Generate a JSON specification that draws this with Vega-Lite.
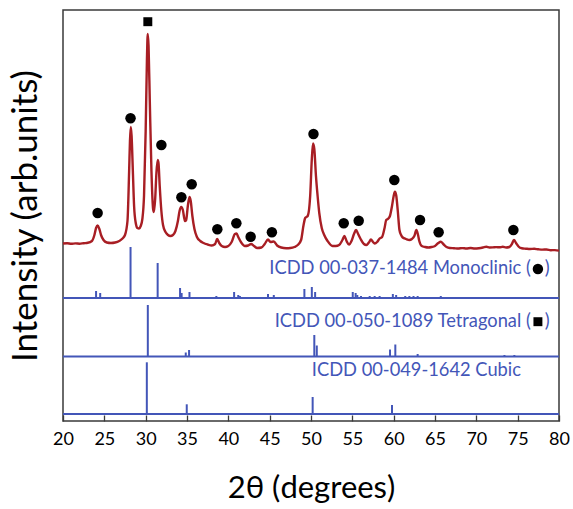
{
  "$schema": "https://vega.github.io/schema/vega-lite/v6.json",
  "width": 496,
  "height": 411,
  "autosize": {"type": "none"},
  "padding": {"left": 63, "top": 10, "right": 14, "bottom": 88},
  "background": "white",
  "config": {
    "view": {"stroke": "#3a3a3a", "strokeWidth": 1.5},
    "font": "Lato"
  },
  "datasets": {
    "pattern": [
      {"t":20.0,"v":177.5},{"t":20.5,"v":177.8},{"t":21.0,"v":177.2},{"t":21.5,"v":177.6},{"t":22.0,"v":177.3},{"t":22.5,"v":177.8},{"t":23.0,"v":178.2},{"t":23.5,"v":180},{"t":23.8,"v":186},{"t":24.0,"v":193},{"t":24.2,"v":195.5},{"t":24.4,"v":192},{"t":24.6,"v":186},{"t":24.9,"v":181},{"t":25.3,"v":178.5},{"t":25.8,"v":178},{"t":26.3,"v":178.5},{"t":26.8,"v":180},{"t":27.2,"v":182.5},{"t":27.5,"v":186},{"t":27.8,"v":200},{"t":28.0,"v":250},{"t":28.1,"v":280},{"t":28.2,"v":294},{"t":28.3,"v":285},{"t":28.45,"v":250},{"t":28.6,"v":215},{"t":28.8,"v":198},{"t":29.0,"v":193},{"t":29.2,"v":192.5},{"t":29.4,"v":195},{"t":29.6,"v":202},{"t":29.8,"v":225},{"t":30.0,"v":290},{"t":30.15,"v":360},{"t":30.25,"v":387},{"t":30.35,"v":375},{"t":30.5,"v":320},{"t":30.7,"v":250},{"t":30.9,"v":212},{"t":31.0,"v":209},{"t":31.15,"v":222},{"t":31.3,"v":248},{"t":31.45,"v":261},{"t":31.55,"v":258},{"t":31.7,"v":235},{"t":31.9,"v":210},{"t":32.1,"v":196},{"t":32.4,"v":189},{"t":32.7,"v":186},{"t":33.0,"v":185},{"t":33.3,"v":186},{"t":33.6,"v":190},{"t":33.9,"v":200},{"t":34.1,"v":210},{"t":34.3,"v":214},{"t":34.5,"v":211},{"t":34.75,"v":200},{"t":34.9,"v":201},{"t":35.1,"v":215},{"t":35.3,"v":224},{"t":35.45,"v":220},{"t":35.65,"v":205},{"t":35.9,"v":192},{"t":36.2,"v":184},{"t":36.6,"v":180},{"t":37.0,"v":178},{"t":37.5,"v":176.5},{"t":38.0,"v":175.5},{"t":38.4,"v":177},{"t":38.65,"v":182},{"t":38.9,"v":178},{"t":39.2,"v":175},{"t":39.6,"v":174},{"t":40.0,"v":175},{"t":40.4,"v":179},{"t":40.8,"v":187},{"t":41.0,"v":187.5},{"t":41.2,"v":184},{"t":41.6,"v":178},{"t":42.0,"v":175},{"t":42.4,"v":175.5},{"t":42.75,"v":177},{"t":43.1,"v":175},{"t":43.5,"v":173},{"t":44.0,"v":173.5},{"t":44.4,"v":177},{"t":44.8,"v":181.5},{"t":45.1,"v":179},{"t":45.5,"v":179.5},{"t":45.9,"v":175.5},{"t":46.4,"v":173.5},{"t":47.0,"v":172.8},{"t":47.5,"v":173},{"t":48.0,"v":174},{"t":48.4,"v":176},{"t":48.8,"v":181},{"t":49.1,"v":196},{"t":49.3,"v":203},{"t":49.6,"v":205},{"t":49.9,"v":225},{"t":50.1,"v":262},{"t":50.25,"v":277.5},{"t":50.4,"v":272},{"t":50.6,"v":245},{"t":50.8,"v":225},{"t":51.0,"v":208},{"t":51.3,"v":193},{"t":51.6,"v":186},{"t":52.0,"v":180},{"t":52.6,"v":175},{"t":53.0,"v":175},{"t":53.4,"v":176},{"t":53.8,"v":181},{"t":54.05,"v":185},{"t":54.3,"v":180},{"t":54.6,"v":176.5},{"t":54.9,"v":180},{"t":55.2,"v":187},{"t":55.45,"v":191},{"t":55.7,"v":187},{"t":56.0,"v":182},{"t":56.4,"v":177},{"t":56.7,"v":176},{"t":57.0,"v":178.5},{"t":57.25,"v":181.5},{"t":57.5,"v":179},{"t":57.7,"v":177.5},{"t":58.0,"v":179},{"t":58.3,"v":182.5},{"t":58.6,"v":184},{"t":58.9,"v":193},{"t":59.1,"v":201},{"t":59.3,"v":202},{"t":59.55,"v":205},{"t":59.8,"v":215},{"t":60.0,"v":225},{"t":60.15,"v":229.3},{"t":60.3,"v":226},{"t":60.5,"v":210},{"t":60.7,"v":191},{"t":60.9,"v":186},{"t":61.1,"v":183.5},{"t":61.5,"v":182},{"t":61.9,"v":181},{"t":62.2,"v":182},{"t":62.5,"v":185},{"t":62.75,"v":191},{"t":62.95,"v":186},{"t":63.1,"v":180},{"t":63.4,"v":175},{"t":63.8,"v":174},{"t":64.2,"v":173.5},{"t":64.6,"v":174},{"t":65.0,"v":175},{"t":65.4,"v":178},{"t":65.7,"v":179.3},{"t":66.0,"v":177},{"t":66.4,"v":174},{"t":66.8,"v":173},{"t":67.3,"v":172.8},{"t":67.8,"v":172.5},{"t":68.3,"v":172.9},{"t":68.8,"v":172.5},{"t":69.3,"v":173},{"t":69.8,"v":172.5},{"t":70.3,"v":172.8},{"t":70.8,"v":173.5},{"t":71.2,"v":174.3},{"t":71.6,"v":173.5},{"t":72.0,"v":173.6},{"t":72.4,"v":173.9},{"t":72.8,"v":173.7},{"t":73.2,"v":174.2},{"t":73.6,"v":173.5},{"t":74.0,"v":174},{"t":74.3,"v":177},{"t":74.55,"v":181},{"t":74.8,"v":178},{"t":75.1,"v":174.5},{"t":75.5,"v":172.7},{"t":76.0,"v":172.3},{"t":76.5,"v":172},{"t":77.0,"v":172.2},{"t":77.5,"v":171.7},{"t":78.0,"v":171.4},{"t":78.5,"v":171.5},{"t":79.0,"v":170.8},{"t":79.5,"v":170.9},{"t":80.0,"v":170.3}
    ],
    "circles": [
      {"t":24.19,"v":208},{"t":28.17,"v":302.7},{"t":31.9,"v":276},{"t":34.32,"v":223.7},{"t":35.57,"v":236.7},{"t":38.67,"v":191.7},{"t":40.97,"v":197.7},{"t":42.7,"v":184.3},{"t":45.27,"v":188.7},{"t":50.3,"v":287},{"t":53.96,"v":197.7},{"t":55.77,"v":200.3},{"t":60.08,"v":241},{"t":63.19,"v":201},{"t":65.44,"v":188.7},{"t":74.48,"v":191},{"t":77.45,"v":152}
    ],
    "squares": [
      {"t":30.26,"v":399.3},{"t":77.45,"v":99.3}
    ],
    "sticks": [
      {"t":24.0,"v":123,"v2":130},{"t":24.5,"v":123,"v2":128},{"t":28.17,"v":123,"v2":174},{"t":31.45,"v":123,"v2":158},{"t":34.16,"v":123,"v2":133},{"t":34.35,"v":123,"v2":128},{"t":35.3,"v":123,"v2":129},{"t":38.55,"v":123,"v2":125},{"t":40.7,"v":123,"v2":129},{"t":41.2,"v":123,"v2":126},{"t":41.4,"v":123,"v2":125},{"t":44.8,"v":123,"v2":127},{"t":45.5,"v":123,"v2":126},{"t":49.2,"v":123,"v2":132},{"t":50.1,"v":123,"v2":134},{"t":50.5,"v":123,"v2":129},{"t":55.05,"v":123,"v2":129},{"t":55.4,"v":123,"v2":128},{"t":55.6,"v":123,"v2":126},{"t":56.05,"v":123,"v2":125},{"t":57.1,"v":123,"v2":125},{"t":57.7,"v":123,"v2":125},{"t":58.3,"v":123,"v2":125},{"t":59.9,"v":123,"v2":127},{"t":60.3,"v":123,"v2":126},{"t":61.4,"v":123,"v2":125},{"t":61.9,"v":123,"v2":125},{"t":62.4,"v":123,"v2":125},{"t":62.9,"v":123,"v2":125},{"t":65.7,"v":123,"v2":125},{"t":71.3,"v":123,"v2":124},{"t":74.9,"v":123,"v2":124},
      {"t":30.26,"v":64.5,"v2":116},{"t":34.85,"v":64.5,"v2":68.5},{"t":35.25,"v":64.5,"v2":71},{"t":50.4,"v":64.5,"v2":86},{"t":50.7,"v":64.5,"v2":75.5},{"t":59.56,"v":64.5,"v2":71.5},{"t":60.2,"v":64.5,"v2":76.5},{"t":62.9,"v":64.5,"v2":67},{"t":73.4,"v":64.5,"v2":66},{"t":74.6,"v":64.5,"v2":66},
      {"t":30.14,"v":7,"v2":58.7},{"t":34.97,"v":7,"v2":16.7},{"t":50.2,"v":7,"v2":24},{"t":59.8,"v":7,"v2":16},{"t":62.7,"v":7,"v2":8}
    ],
    "baselines": [{"v":123},{"v":64.5},{"v":7}],
    "labels": [
      {"t":78.88,"v":152,"label":"ICDD 00-037-1484 Monoclinic (\u00a0\u00a0\u00a0)"},
      {"t":78.88,"v":99.3,"label":"ICDD 00-050-1089 Tetragonal (\u00a0\u00a0\u00a0)"},
      {"t":75.4,"v":50,"label":"ICDD 00-049-1642 Cubic"}
    ]
  },
  "layer": [
    {
      "data": {"name": "pattern"},
      "mark": {"type": "line", "color": "#a81e24", "strokeWidth": 2.4, "interpolate": "monotone"},
      "encoding": {
        "x": {
          "field": "t", "type": "quantitative",
          "scale": {"domain": [20, 80], "nice": false, "zero": false},
          "title": "2θ (degrees)",
          "axis": {
            "values": [20,22.5,25,27.5,30,32.5,35,37.5,40,42.5,45,47.5,50,52.5,55,57.5,60,62.5,65,67.5,70,72.5,75,77.5,80],
            "labelExpr": "datum.value % 5 === 0 ? datum.label : ''",
            "tickSize": {"condition": {"test": "datum.value % 5 === 0", "value": -6}, "value": -3},
            "tickColor": "#3a3a3a", "tickWidth": 1.3,
            "domain": false, "grid": false,
            "labelFlush": false, "labelOverlap": false,
            "labelFont": "Lato", "labelFontSize": 18, "labelColor": "black", "labelPadding": 15,
            "titleFont": "Lato", "titleFontSize": 31, "titleFontWeight": "normal", "titleColor": "black", "titlePadding": 25
          }
        },
        "y": {
          "field": "v", "type": "quantitative",
          "scale": {"domain": [0, 411], "nice": false, "zero": false},
          "title": "Intensity (arb.units)",
          "axis": {
            "domain": false, "grid": false, "ticks": false, "labels": false,
            "titleFont": "Lato", "titleFontSize": 35, "titleFontWeight": "normal", "titleColor": "black", "titlePadding": 20
          }
        }
      }
    },
    {
      "data": {"name": "baselines"},
      "mark": {"type": "rule", "color": "#4356b8", "strokeWidth": 2},
      "encoding": {
        "y": {"field": "v", "type": "quantitative", "title": "Intensity (arb.units)"}
      }
    },
    {
      "data": {"name": "sticks"},
      "mark": {"type": "rule", "color": "#4356b8", "strokeWidth": 2},
      "encoding": {
        "x": {"field": "t", "type": "quantitative", "title": "2θ (degrees)"},
        "y": {"field": "v", "type": "quantitative", "title": "Intensity (arb.units)"},
        "y2": {"field": "v2"}
      }
    },
    {
      "data": {"name": "labels"},
      "mark": {"type": "text", "align": "right", "baseline": "middle", "font": "Lato", "fontSize": 18.3, "color": "#4356b8"},
      "encoding": {
        "x": {"field": "t", "type": "quantitative", "title": "2θ (degrees)"},
        "y": {"field": "v", "type": "quantitative", "title": "Intensity (arb.units)"},
        "text": {"field": "label"}
      }
    },
    {
      "data": {"name": "circles"},
      "mark": {"type": "point", "shape": "circle", "filled": true, "color": "black", "opacity": 1, "size": 110},
      "encoding": {
        "x": {"field": "t", "type": "quantitative", "title": "2θ (degrees)"},
        "y": {"field": "v", "type": "quantitative", "title": "Intensity (arb.units)"}
      }
    },
    {
      "data": {"name": "squares"},
      "mark": {"type": "point", "shape": "square", "filled": true, "color": "black", "opacity": 1, "size": 80},
      "encoding": {
        "x": {"field": "t", "type": "quantitative", "title": "2θ (degrees)"},
        "y": {"field": "v", "type": "quantitative", "title": "Intensity (arb.units)"}
      }
    }
  ]
}
